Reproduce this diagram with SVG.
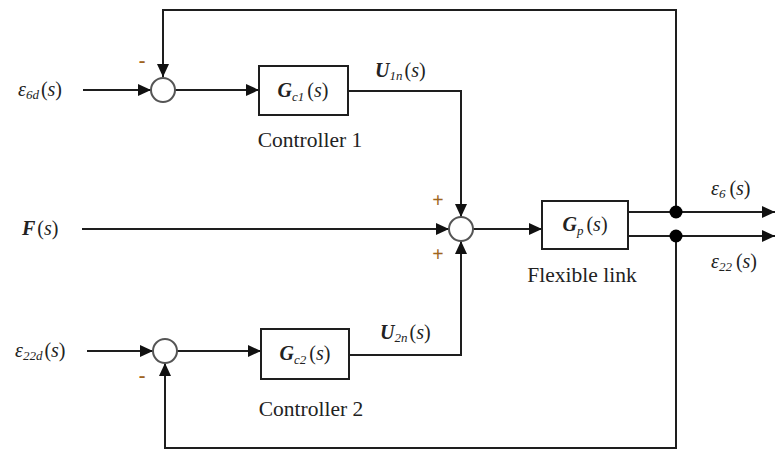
<svg xmlns="http://www.w3.org/2000/svg" width="775" height="452" viewBox="0 0 775 452" font-family="'Liberation Serif','Times New Roman',serif">
<style>
.ln{fill:none;stroke:#1e1e1e;stroke-width:2}
.sum{fill:#fff;stroke:#555;stroke-width:2}
.blk{fill:#fff;stroke:#1e1e1e;stroke-width:2}
text{font-family:"Liberation Serif","Times New Roman",serif;fill:#222}
.cap{font-size:21.5px}
.m{font-size:20px}
.b{font-weight:bold;font-style:italic}
.i{font-style:italic}
.sub{font-size:13px;font-style:italic}
.sg{font-size:20px;fill:#a0651e;font-weight:bold}
</style>
<defs>
<marker id="ah" markerUnits="userSpaceOnUse" markerWidth="14" markerHeight="12" refX="13" refY="6" orient="auto">
<path d="M0,0 L13,6 L0,12 Z" fill="#111"/>
</marker>
</defs>
<g id="connectors">
<path class="ln" d="M676,212 V10 H163 V77" marker-end="url(#ah)"/>
<path class="ln" d="M83,90 H151" marker-end="url(#ah)"/>
<path class="ln" d="M175,90 H259" marker-end="url(#ah)"/>
<path class="ln" d="M348,91 H461 V217" marker-end="url(#ah)"/>
<path class="ln" d="M82,229 H449" marker-end="url(#ah)"/>
<path class="ln" d="M473,229 H542" marker-end="url(#ah)"/>
<path class="ln" d="M628,212 H775" marker-end="url(#ah)"/>
<path class="ln" d="M628,236 H775" marker-end="url(#ah)"/>
<path class="ln" d="M676,236 V448 H165 V363" marker-end="url(#ah)"/>
<path class="ln" d="M87,351 H153" marker-end="url(#ah)"/>
<path class="ln" d="M177,351 H261" marker-end="url(#ah)"/>
<path class="ln" d="M349,355 H461 V241" marker-end="url(#ah)"/>
<circle cx="676" cy="212" r="6.5" fill="#000"/>
<circle cx="676" cy="236" r="6.5" fill="#000"/>
</g>
<g id="sum1">
<circle class="sum" cx="163" cy="90" r="12"/>
<text class="sg" x="142" y="67" text-anchor="middle">-</text>
</g>
<g id="sum2">
<circle class="sum" cx="461" cy="229" r="12"/>
<text class="sg" x="438" y="207" text-anchor="middle">+</text>
<text class="sg" x="438" y="261" text-anchor="middle">+</text>
</g>
<g id="sum3">
<circle class="sum" cx="165" cy="351" r="12"/>
<text class="sg" x="142" y="382" text-anchor="middle">-</text>
</g>
<g id="controller1">
<rect class="blk" x="259" y="66" width="89" height="49"/>
<text class="m" x="303" y="97" text-anchor="middle"><tspan class="b">G</tspan><tspan class="sub" dy="4">c1</tspan><tspan dx="3" dy="-4">(</tspan><tspan class="i">s</tspan>)</text>
<text class="cap" x="310" y="147" text-anchor="middle">Controller 1</text>
</g>
<g id="controller2">
<rect class="blk" x="261" y="329" width="88" height="50"/>
<text class="m" x="305" y="360" text-anchor="middle"><tspan class="b">G</tspan><tspan class="sub" dy="4">c2</tspan><tspan dx="3" dy="-4">(</tspan><tspan class="i">s</tspan>)</text>
<text class="cap" x="311" y="416" text-anchor="middle">Controller 2</text>
</g>
<g id="plant">
<rect class="blk" x="542" y="201" width="86" height="48"/>
<text class="m" x="585" y="231" text-anchor="middle"><tspan class="b">G</tspan><tspan class="sub" dy="4">p</tspan><tspan dx="3" dy="-4">(</tspan><tspan class="i">s</tspan>)</text>
<text class="cap" x="582" y="282" text-anchor="middle">Flexible link</text>
</g>
<g id="labels">
<text class="m" x="18" y="96"><tspan class="i">ε</tspan><tspan class="sub" dy="3">6d</tspan><tspan dx="2" dy="-3">(</tspan><tspan class="i">s</tspan>)</text>
<text class="m" x="22" y="235"><tspan class="b">F</tspan><tspan dx="2">(</tspan><tspan class="i">s</tspan>)</text>
<text class="m" x="15" y="357"><tspan class="i">ε</tspan><tspan class="sub" dy="3">22d</tspan><tspan dx="2" dy="-3">(</tspan><tspan class="i">s</tspan>)</text>
<text class="m" x="375" y="77"><tspan class="b">U</tspan><tspan class="sub" dy="3">1n</tspan><tspan dx="2" dy="-3">(</tspan><tspan class="i">s</tspan>)</text>
<text class="m" x="380" y="339"><tspan class="b">U</tspan><tspan class="sub" dy="3">2n</tspan><tspan dx="2" dy="-3">(</tspan><tspan class="i">s</tspan>)</text>
<text class="m" x="711" y="195"><tspan class="i">ε</tspan><tspan class="sub" dy="3">6</tspan><tspan dx="4" dy="-3">(</tspan><tspan class="i">s</tspan>)</text>
<text class="m" x="711" y="268"><tspan class="i">ε</tspan><tspan class="sub" dy="3">22</tspan><tspan dx="4" dy="-3">(</tspan><tspan class="i">s</tspan>)</text>
</g>
</svg>
